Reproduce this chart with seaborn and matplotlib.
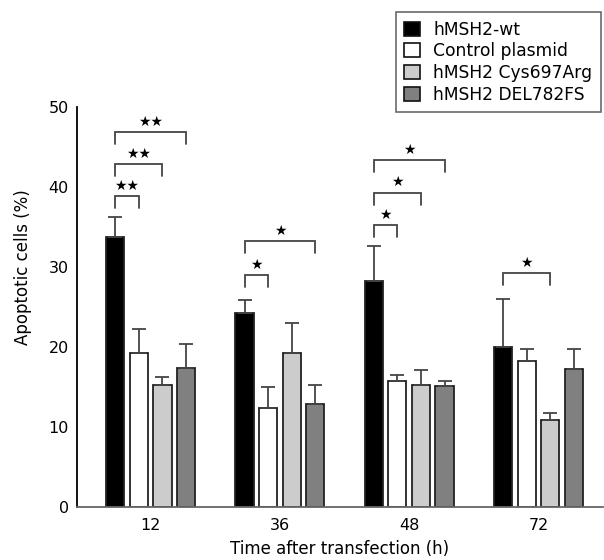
import matplotlib
matplotlib.use("Agg")
import matplotlib.pyplot as plt
import seaborn as sns
import pandas as pd
import numpy as np

times = ["12", "36", "48", "72"]
groups = ["hMSH2-wt", "Control plasmid", "hMSH2 Cys697Arg", "hMSH2 DEL782FS"]
means = {
    "hMSH2-wt":        [33.7, 24.3, 28.3, 20.0],
    "Control plasmid": [19.3, 12.4, 15.7, 18.2],
    "hMSH2 Cys697Arg": [15.2, 19.2, 15.25, 10.9],
    "hMSH2 DEL782FS":  [17.4, 12.9, 15.1, 17.25],
}
err_tops = {
    "hMSH2-wt":        [36.2, 25.9, 32.6, 26.0],
    "Control plasmid": [22.2, 15.0, 16.5, 19.7],
    "hMSH2 Cys697Arg": [16.2, 23.0, 17.1, 11.75],
    "hMSH2 DEL782FS":  [20.4, 15.3, 15.75, 19.7],
}
colors = ["#000000", "#ffffff", "#cccccc", "#808080"]
# significance brackets: (time index, group a, group b, bracket top, label)
brackets = [
    (0, 0, 1, 38.9, "★★"),
    (0, 0, 2, 42.9, "★★"),
    (0, 0, 3, 46.9, "★★"),
    (1, 0, 1, 29.0, "★"),
    (1, 0, 3, 33.25, "★"),
    (2, 0, 1, 35.25, "★"),
    (2, 0, 2, 39.3, "★"),
    (2, 0, 3, 43.4, "★"),
    (3, 0, 2, 29.2, "★"),
]
yticks = [0, 10, 20, 30, 40, 50]

rows = []
for g in groups:
    for t, m in zip(times, means[g]):
        rows.append({"time": t, "group": g, "value": m})
df = pd.DataFrame(rows)

sns.set_style("white")
plt.rcParams["font.family"] = ["DejaVu Sans"]
plt.rcParams["text.color"] = "black"
plt.rcParams["axes.labelcolor"] = "black"
plt.rcParams["xtick.color"] = "black"
plt.rcParams["ytick.color"] = "black"

fig = plt.figure(figsize=(6.04, 5.6), dpi=100)
ax = fig.add_axes([77 / 604, (560 - 507) / 560, (603 - 77) / 604, (507 - 27) / 560])

sns.barplot(data=df, x="time", y="value", hue="group", hue_order=groups,
            order=times, palette=colors, width=0.73, gap=0.23,
            edgecolor="#222222", linewidth=1.3, errorbar=None, ax=ax)

bar_containers = list(ax.containers)
centers = {}
for gi, cont in enumerate(bar_containers):
    for ti, bar in enumerate(cont):
        centers[(ti, gi)] = bar.get_x() + bar.get_width() / 2

for gi, g in enumerate(groups):
    xs = [centers[(ti, gi)] for ti in range(len(times))]
    m = np.array(means[g])
    e = np.array(err_tops[g]) - m
    ax.errorbar(xs, m, yerr=[np.zeros_like(e), e], fmt="none", ecolor="#444444",
                elinewidth=1.3, capsize=4.7, capthick=1.3, zorder=3)

for ti, a, b, top, lab in brackets:
    x1, x2 = centers[(ti, a)], centers[(ti, b)]
    ax.plot([x1, x1, x2, x2], [top - 1.5, top, top, top - 1.5],
            color="#444444", lw=1.3, solid_joinstyle="miter")
    ax.text((x1 + x2) / 2, top + 0.4, lab, ha="center", va="bottom",
            fontsize=10, color="black")

ax.set_ylim(0, 60)
ax.set_xlim(-0.57, 3.5)
ax.set_yticks(yticks)
ax.spines["left"].set_bounds(0, 50)
ax.spines["top"].set_visible(False)
ax.spines["right"].set_visible(False)
ax.spines["left"].set_color("black")
ax.spines["bottom"].set_color("#666666")
ax.spines["left"].set_linewidth(1.3)
ax.spines["bottom"].set_linewidth(1.3)
ax.tick_params(axis="y", direction="in", length=10, width=1.3, color="#333333",
               labelsize=11.5, pad=6, labelcolor="black")
ax.tick_params(axis="x", length=0, labelsize=11.5, pad=8, labelcolor="black")
ax.set_xlabel("Time after transfection (h)", fontsize=12, labelpad=5)
ax.set_ylabel("Apoptotic cells (%)", fontsize=12, labelpad=12)

sns.move_legend(ax, loc="upper right", bbox_to_anchor=(601 / 604, 1 - 12 / 560),
                bbox_transform=fig.transFigure, title=None, frameon=True,
                fontsize=12.3, handlelength=0.9, handleheight=0.9,
                labelspacing=0.22, borderpad=0.5, handletextpad=0.8,
                borderaxespad=0, fancybox=False, edgecolor="#444444")
leg = ax.get_legend()
leg.get_frame().set_linewidth(1.2)
for t in leg.get_texts():
    t.set_color("black")
for h in leg.legend_handles:
    h.set_edgecolor("#111111")
    h.set_linewidth(1.2)

fig.savefig("out.png", dpi=100)
